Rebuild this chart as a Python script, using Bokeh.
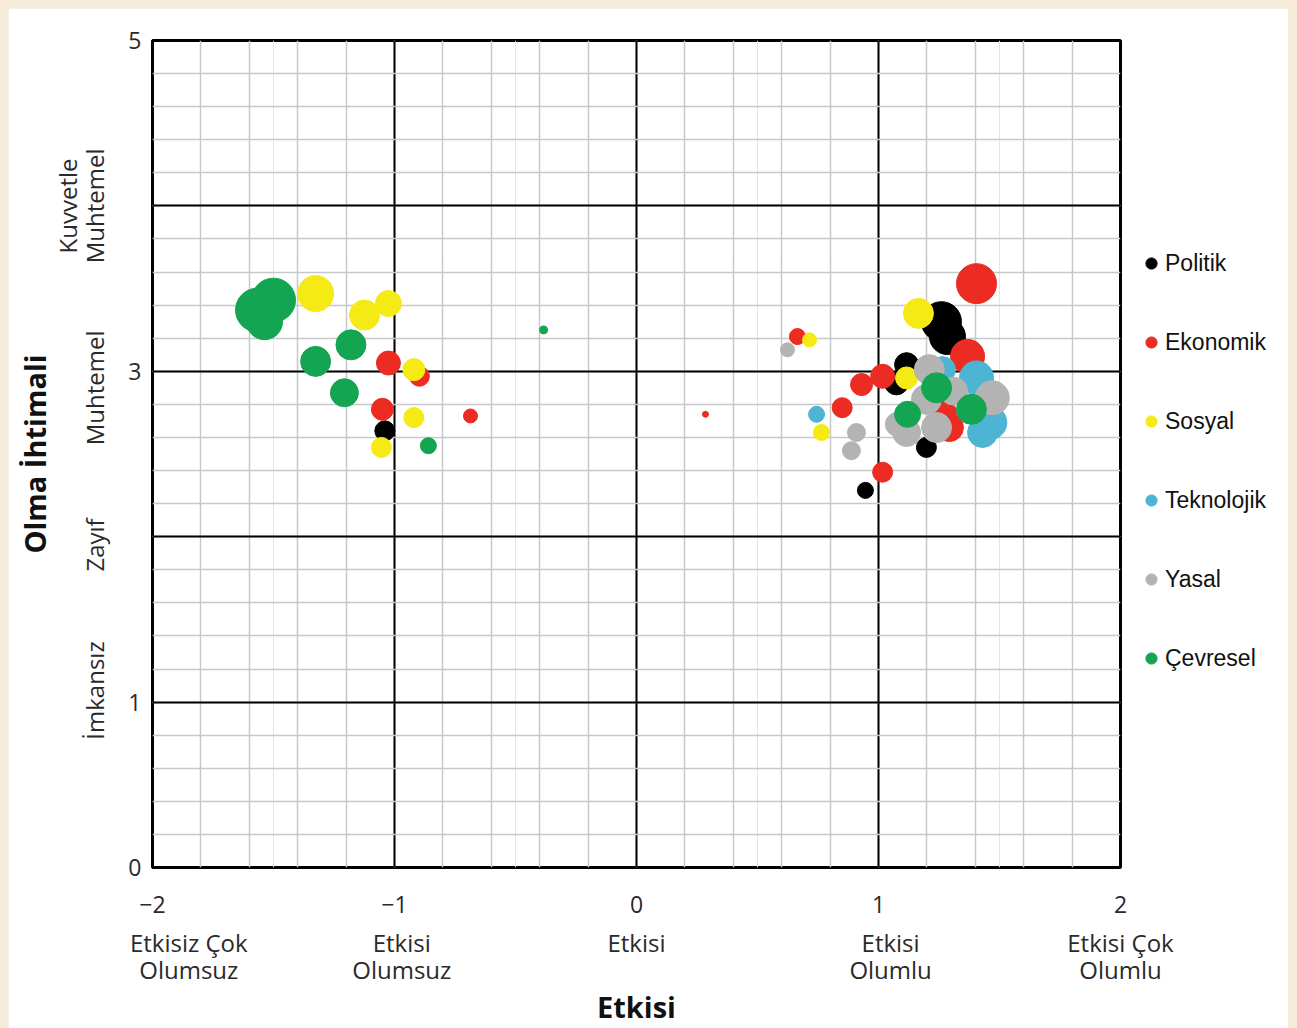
from bokeh.plotting import figure
from bokeh.models import Range1d, LinearAxis, FixedTicker, Grid, Legend, LegendItem
from bokeh.embed import file_html
from bokeh.resources import INLINE

# ---------------- data ----------------
categories = ["Politik", "Ekonomik", "Sosyal", "Teknolojik", "Yasal", "Çevresel"]
colors = ["#000000", "#ec2b23", "#f6ea14", "#4db4d4", "#b3b3b3", "#13a551"]

politik_x = [-1.04, 1.26, 1.285, 1.116, 1.074, 1.198, 0.946]
politik_y = [2.64, 3.30, 3.21, 3.04, 2.93, 2.54, 2.28]
politik_w = [10, 20, 18, 12, 12, 10, 8]

ekonomik_x = [-1.025, -0.897, -1.05, -0.686, 0.285, 1.405, 1.368, 1.017, 0.93, 0.85, 1.017, 1.293, 1.273, 0.665]
ekonomik_y = [3.05, 2.97, 2.77, 2.73, 2.74, 3.53, 3.09, 2.97, 2.92, 2.78, 2.39, 2.66, 2.75, 3.21]
ekonomik_w = [12, 10, 11, 7, 3, 20, 17, 12, 11, 10, 10, 14, 12, 8]

sosyal_x = [-1.326, -1.124, -1.025, -0.92, -0.92, -1.054, 1.165, 1.116, 0.715, 0.764]
sosyal_y = [3.47, 3.34, 3.41, 3.01, 2.72, 2.54, 3.35, 2.96, 3.19, 2.63]
sosyal_w = [18, 15, 13, 11, 10, 10, 15, 11, 7, 8]

teknolojik_x = [1.405, 1.46, 1.43, 0.744, 1.264]
teknolojik_y = [2.96, 2.69, 2.63, 2.74, 3.01]
teknolojik_w = [17, 17, 15, 8, 13]

yasal_x = [1.47, 1.21, 1.198, 1.24, 1.116, 1.078, 0.909, 0.888, 0.624, 1.31]
yasal_y = [2.84, 3.01, 2.83, 2.66, 2.63, 2.68, 2.63, 2.52, 3.13, 2.88]
yasal_w = [17, 15, 15, 15, 14, 12, 9, 9, 7, 14]

cevresel_x = [-1.50, -1.566, -1.537, -1.18, -1.326, -1.207, -0.86, -0.384, 1.384, 1.24, 1.12]
cevresel_y = [3.43, 3.37, 3.30, 3.16, 3.06, 2.87, 2.55, 3.25, 2.77, 2.90, 2.74]
cevresel_w = [22, 22, 18, 15, 15, 14, 8, 4, 15, 15, 13]

x_ticks = [-2, -1, 0, 1, 2]
x_tick_labels = ["−2", "−1", "0", "1", "2"]
x_desc_ticks = [-1.85, -0.97, 0, 1.05, 2]
x_desc_labels = ["Etkisiz Çok\nOlumsuz", "Etkisi\nOlumsuz", "Etkisi", "Etkisi\nOlumlu", "Etkisi Çok\nOlumlu"]
y_ticks = [0, 1, 3, 5]
y_tick_labels = ["0", "1", "3", "5"]
y_desc_ticks = [4, 2.9, 1.95, 1.07]
y_desc_labels = ["Kuvvetle\nMuhtemel", "Muhtemel", "Zayıf", "İmkansız"]

series_x = [politik_x, ekonomik_x, sosyal_x, teknolojik_x, yasal_x, cevresel_x]
series_y = [politik_y, ekonomik_y, sosyal_y, teknolojik_y, yasal_y, cevresel_y]
series_w = [politik_w, ekonomik_w, sosyal_w, teknolojik_w, yasal_w, cevresel_w]

# ---------------- main figure ----------------
p = figure(width=1280, height=1020, x_range=Range1d(-2, 2), y_range=Range1d(0, 5),
           x_axis_location=None, y_axis_location=None,
           output_backend="svg", toolbar_location=None,
           min_border_left=144, min_border_right=168, min_border_top=32, min_border_bottom=160)
p.border_fill_color = "white"
p.background_fill_color = "white"
p.outline_line_color = "black"
p.outline_line_width = 3

xminor = [round(-2 + 0.2 * i, 2) for i in range(1, 20)]
yminor = [round(0.2 * i, 2) for i in range(1, 25)]
xgrid = Grid(dimension=0, ticker=FixedTicker(ticks=[-1, 0, 1], minor_ticks=xminor),
             grid_line_color="black", grid_line_width=2,
             minor_grid_line_color="#c8c8c8", minor_grid_line_width=1.5)
ygrid = Grid(dimension=1, ticker=FixedTicker(ticks=[1, 2, 3, 4], minor_ticks=yminor),
             grid_line_color="black", grid_line_width=2,
             minor_grid_line_color="#c8c8c8", minor_grid_line_width=1.5)
p.add_layout(xgrid)
p.add_layout(ygrid)

def style_axis(ax):
    ax.axis_line_color = None
    ax.major_tick_line_color = None
    ax.minor_tick_line_color = None
    ax.major_label_text_font = "Open Sans"
    ax.major_label_text_color = "#2a2a2a"
    ax.axis_label_text_font = "Open Sans"
    ax.axis_label_text_color = "#111111"

ax1 = LinearAxis(ticker=FixedTicker(ticks=x_ticks),
                 major_label_overrides=dict(zip(x_ticks, x_tick_labels)))
style_axis(ax1)
ax1.major_label_standoff = 22
ax1.major_label_text_font_size = "23px"
p.add_layout(ax1, "below")

ax2 = LinearAxis(ticker=FixedTicker(ticks=x_desc_ticks),
                 major_label_overrides=dict(zip(x_desc_ticks, x_desc_labels)),
                 axis_label="Etkisi")
style_axis(ax2)
ax2.major_label_standoff = 4
ax2.major_label_text_font_size = "24px"
ax2.major_label_text_line_height = 0.82
ax2.axis_label_text_font_size = "29px"
ax2.axis_label_text_font_style = "bold"
ax2.axis_label_standoff = -2
p.add_layout(ax2, "below")

ay1 = LinearAxis(ticker=FixedTicker(ticks=y_ticks),
                 major_label_overrides=dict(zip(y_ticks, y_tick_labels)))
style_axis(ay1)
ay1.major_label_standoff = 5
ay1.major_label_text_font_size = "23px"
p.add_layout(ay1, "left")

ay2 = LinearAxis(ticker=FixedTicker(ticks=y_desc_ticks),
                 major_label_overrides=dict(zip(y_desc_ticks, y_desc_labels)),
                 axis_label="Olma İhtimali")
style_axis(ay2)
ay2.major_label_orientation = "vertical"
ay2.major_label_standoff = 8
ay2.major_label_text_font_size = "24px"
ay2.major_label_text_line_height = 0.82
ay2.axis_label_text_font_size = "29px"
ay2.axis_label_text_font_style = "bold"
ay2.axis_label_standoff = -6
p.add_layout(ay2, "left")

for col, xs, ys, ws in zip(colors, series_x, series_y, series_w):
    p.scatter(x=xs, y=ys, size=[2 * w for w in ws], marker="circle",
              fill_color=col, line_color=col, line_width=1)

# ---------------- legend (separate transparent figure laid over the right margin) ----------------
lf = figure(width=160, height=450, x_range=Range1d(0, 1), y_range=Range1d(0, 1),
            x_axis_location=None, y_axis_location=None,
            output_backend="svg", toolbar_location=None,
            min_border_left=0, min_border_right=0, min_border_top=0, min_border_bottom=0)
lf.border_fill_alpha = 0
lf.background_fill_alpha = 0
lf.outline_line_color = None
lf.xgrid.visible = False
lf.ygrid.visible = False

items = []
for name, col in zip(categories, colors):
    # one point outside the visible range: only its legend swatch is shown
    r = lf.scatter(x=[-5], y=[-5], size=10, marker="circle", fill_color=col, line_color=col)
    items.append(LegendItem(label=name, renderers=[r]))

legend = Legend(items=items, location="top_left", orientation="vertical",
                glyph_width=28, glyph_height=28, label_height=28, spacing=51,
                label_standoff=-3, padding=10, margin=0,
                label_text_font="Liberation Sans", label_text_font_size="23px",
                label_text_color="#111111", border_line_color=None,
                background_fill_alpha=0)
lf.add_layout(legend)

html = file_html([p, lf], INLINE)
css = ("<style>html body{background:#f4ebd8 !important;padding:8px 0 0 8px !important;}"
       "div[data-root-id=\"%s\"]{display:block !important;position:absolute !important;"
       "left:1137px !important;top:249px !important;width:160px;height:450px;}</style>" % lf.id)
html = html.replace("</head>", css + "</head>", 1)
open("out.html", "w").write(html)
